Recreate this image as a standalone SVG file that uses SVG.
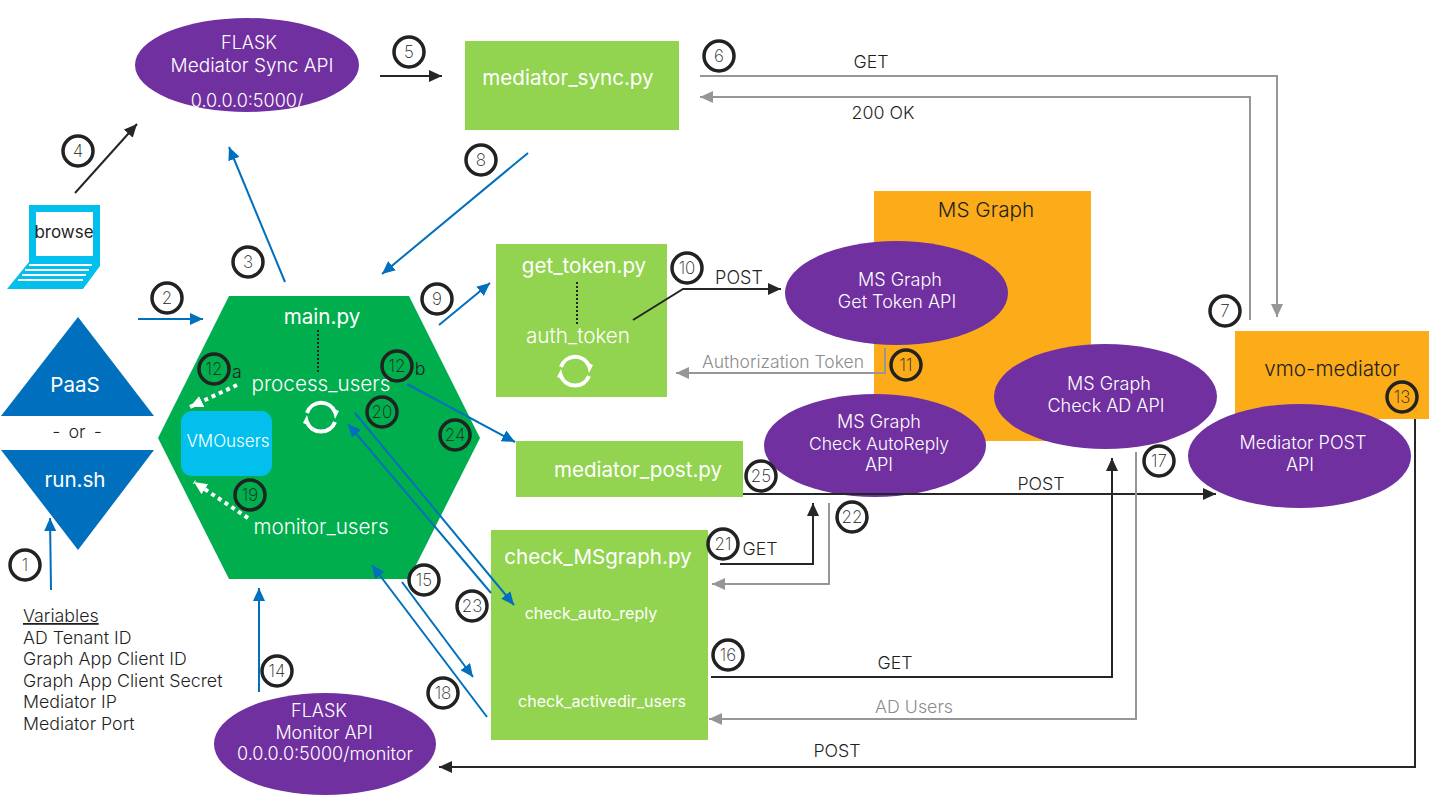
<svg xmlns="http://www.w3.org/2000/svg" width="1438" height="809" viewBox="0 0 1438 809">
<style>
text{font-family:Inter,"Liberation Sans",sans-serif;font-weight:300;fill:#fff;text-anchor:middle}
.d{fill:#1f1f1f}.g{fill:#8c8c8c}.l{font-size:20.7px}.h{font-size:20.6px;font-weight:400}.m{font-size:18px}.t{font-size:17.8px}.st{text-anchor:start}.u{font-size:16.1px;font-weight:400}
.p{fill:#7030A0}.lg{fill:#92D350}.o{fill:#FCAB19}.b{fill:#006FBE}
.n circle{fill:none;stroke:#222;stroke-width:3.5}
.n text{font-size:17px;fill:#222;font-weight:200}
.c path{fill:none}
.bl{stroke:#006FBE;stroke-width:2}.k{stroke:#262626;stroke-width:2}.gr{stroke:#969696;stroke-width:2}
.w{stroke:#fff;stroke-width:4;stroke-dasharray:4 4}
.dot{stroke:#222;stroke-width:2;stroke-dasharray:2 2}
</style>
<defs>
<marker id="ab" markerUnits="userSpaceOnUse" markerWidth="14" markerHeight="12" refX="13" refY="6" orient="auto"><path d="M0 0L13 6L0 12z" fill="#006FBE"/></marker>
<marker id="ak" markerUnits="userSpaceOnUse" markerWidth="14" markerHeight="12" refX="13" refY="6" orient="auto"><path d="M0 0L13 6L0 12z" fill="#262626"/></marker>
<marker id="ag" markerUnits="userSpaceOnUse" markerWidth="14" markerHeight="12" refX="13" refY="6" orient="auto"><path d="M0 0L13 6L0 12z" fill="#969696"/></marker>
<marker id="aw" markerUnits="userSpaceOnUse" markerWidth="14" markerHeight="12" refX="13" refY="6" orient="auto"><path d="M0 0L13 6L0 12z" fill="#fff"/></marker>
<g id="loop"><path d="M-14-4A15 15 0 0 1 14-5" fill="none" stroke="#fff" stroke-width="4"/><path d="M14 5A15 15 0 0 1-14 5" fill="none" stroke="#fff" stroke-width="4"/><path d="M11-9L18-6L14 2z" fill="#fff"/><path d="M-11 9L-18 6L-14-2z" fill="#fff"/></g>
</defs>
<g id="ms-graph"><rect class="o" x="874" y="191" width="217" height="250"/><text class="d l" x="986" y="217">MS Graph</text></g>
<g id="vmo-mediator"><rect class="o" x="1235" y="331" width="194" height="88"/><text class="d l" x="1332" y="376">vmo-mediator</text></g>
<g id="main"><path d="M229 296H409L480 438L409 579H229L158 438z" fill="#00AE4E"/>
<text class="h" x="322" y="324">main.py</text><text class="l" x="321" y="391">process_users</text><text class="l" x="321" y="534">monitor_users</text>
<use href="#loop" x="321" y="417"/></g>
<g id="vmousers"><rect x="181" y="411" width="91" height="65" rx="11" fill="#02BFEE"/><text x="228" y="447" font-size="17">VMOusers</text></g>
<g id="paas"><path class="b" d="M78 317L154 416H1z"/><text class="h" x="75" y="392">PaaS</text></g>
<text class="d m" x="77" y="438" word-spacing="3">- or -</text>
<g id="run"><path class="b" d="M1 450H154L78 550z"/><text class="h" x="75" y="487">run.sh</text></g>
<g id="browse"><path d="M29 205H100V266L83 289H7L29 262z" fill="#02BFEE"/><rect x="36" y="212" width="57" height="44" fill="#fff"/><path d="M29 265H92M25 270H89M22 275H86M18 280H83" stroke="#fff" stroke-width="2"/><text class="d" x="64" y="238" font-size="17" style="font-weight:400">browse</text></g>
<g id="flask-sync"><ellipse class="p" cx="247" cy="65" rx="112" ry="47"/><text x="249" y="49" class="m">FLASK</text><text x="252" y="72" font-size="19">Mediator Sync API</text><text x="247" y="107" class="m">0.0.0.0:5000/</text></g>
<g id="mediator-sync"><rect class="lg" x="465" y="41" width="214" height="89"/><text class="h" x="568" y="85">mediator_sync.py</text></g>
<g id="get-token"><rect class="lg" x="496" y="244" width="171" height="153"/><text class="h" x="584" y="273">get_token.py</text><text class="l" x="578" y="343">auth_token</text><use href="#loop" x="575" y="371"/></g>
<g id="mediator-post"><rect class="lg" x="516" y="441" width="227" height="56"/><text class="h" x="638" y="477">mediator_post.py</text></g>
<g id="check-msgraph"><rect class="lg" x="491" y="530" width="217" height="210"/><text class="h" x="598" y="564">check_MSgraph.py</text><text x="591" y="619" class="u">check_auto_reply</text><text x="602" y="707" class="u">check_activedir_users</text></g>
<g id="get-token-api"><ellipse class="p" cx="896.5" cy="293" rx="111.5" ry="52"/><text x="900" y="286" class="m">MS Graph</text><text x="897" y="308" class="m">Get Token API</text></g>
<g id="autoreply-api"><ellipse class="p" cx="875" cy="445.5" rx="111" ry="51.5"/><text x="879" y="428" class="m">MS Graph</text><text x="879" y="450" font-size="17.5">Check AutoReply</text><text x="879" y="471" class="m">API</text></g>
<g id="ad-api"><ellipse class="p" cx="1105.5" cy="396.5" rx="111.5" ry="52.5"/><text x="1109" y="390" class="m">MS Graph</text><text x="1106" y="412" class="m">Check AD API</text></g>
<g id="post-api"><ellipse class="p" cx="1299.5" cy="456" rx="111.5" ry="52"/><text x="1303" y="449" class="m">Mediator POST</text><text x="1300" y="471" class="m">API</text></g>
<g id="flask-monitor"><ellipse class="p" cx="325" cy="744" rx="111" ry="51"/><text x="319" y="717" class="m">FLASK</text><text x="324" y="739" class="m">Monitor API</text><text x="325" y="760" class="m">0.0.0.0:5000/monitor</text></g>
<g id="connectors" class="c">
<path class="bl" marker-end="url(#ab)" d="M51 590L50 518"/>
<path class="bl" marker-end="url(#ab)" d="M138 319H203"/>
<path class="bl" marker-end="url(#ab)" d="M285 282L229 147"/>
<path class="k" marker-end="url(#ak)" d="M75 193L137 124"/>
<path class="k" marker-end="url(#ak)" d="M380 76H442"/>
<path class="gr" marker-end="url(#ag)" d="M700 76H1277V317"/>
<path class="gr" marker-end="url(#ag)" d="M1250 320V97H700"/>
<path class="bl" marker-end="url(#ab)" d="M528 153L382 274"/>
<path class="bl" marker-end="url(#ab)" d="M439 325L490 283"/>
<path class="k" marker-end="url(#ak)" d="M633 320L683 289H781"/>
<path class="gr" marker-end="url(#ag)" d="M885 348V373H676"/>
<path class="w" marker-end="url(#aw)" d="M237 385L190 407"/>
<path class="w" marker-end="url(#aw)" d="M248 518L194 482"/>
<path class="bl" marker-end="url(#ab)" d="M407 384L515 442"/>
<path class="bl" marker-end="url(#ab)" d="M355 413L514 605"/>
<path class="bl" marker-end="url(#ab)" d="M491 593L348 424"/>
<path class="bl" marker-end="url(#ab)" d="M487 717L372 565"/>
<path class="bl" marker-end="url(#ab)" d="M402 582L473 677"/>
<path class="bl" marker-end="url(#ab)" d="M259 692V588"/>
<path class="k" marker-end="url(#ak)" d="M743 494H1216"/>
<path class="k" marker-end="url(#ak)" d="M720 564H813V503"/>
<path class="gr" marker-end="url(#ag)" d="M829 503V584H712"/>
<path class="k" marker-end="url(#ak)" d="M711 677H1112V458"/>
<path class="gr" marker-end="url(#ag)" d="M1136 452V719H709"/>
<path class="k" marker-end="url(#ak)" d="M1415 419V767H439"/>
<path class="dot" d="M318 330V372M577 282V324"/>
</g>
<g id="labels">
<text class="d t" x="871" y="68">GET</text>
<text class="d t" x="883" y="119">200 OK</text>
<text class="d m" x="739" y="284">POST</text>
<text class="g" x="783" y="368" font-size="17.5">Authorization Token</text>
<text class="d t" x="1041" y="490">POST</text>
<text class="d t" x="760" y="555">GET</text>
<text class="d t" x="895" y="669">GET</text>
<text class="g t" x="914" y="713">AD Users</text>
<text class="d t" x="837" y="757">POST</text>
<text class="d t" x="237" y="378">a</text>
<text class="d t" x="420" y="375">b</text>
<text class="d t st" x="23" y="622" text-decoration="underline">Variables</text>
<text class="d t st" x="23" y="644">AD Tenant ID</text>
<text class="d t st" x="23" y="665">Graph App Client ID</text>
<text class="d t st" x="23" y="687">Graph App Client Secret</text>
<text class="d t st" x="23" y="708">Mediator IP</text>
<text class="d t st" x="23" y="730">Mediator Port</text>
</g>
<g id="n1" class="n"><circle cx="25" cy="565" r="15"/><text x="25" y="571">1</text></g>
<g id="n2" class="n"><circle cx="167" cy="298" r="15"/><text x="167" y="304">2</text></g>
<g id="n3" class="n"><circle cx="248" cy="262" r="15"/><text x="248" y="268">3</text></g>
<g id="n4" class="n"><circle cx="78" cy="151" r="15"/><text x="78" y="157">4</text></g>
<g id="n5" class="n"><circle cx="409" cy="52" r="15"/><text x="409" y="58">5</text></g>
<g id="n6" class="n"><circle cx="719" cy="56" r="15"/><text x="719" y="62">6</text></g>
<g id="n7" class="n"><circle cx="1225" cy="311" r="15"/><text x="1225" y="317">7</text></g>
<g id="n8" class="n"><circle cx="481" cy="160" r="15"/><text x="481" y="166">8</text></g>
<g id="n9" class="n"><circle cx="437" cy="299" r="15"/><text x="437" y="305">9</text></g>
<g id="n10" class="n"><circle cx="687" cy="268" r="15"/><text x="687" y="274">10</text></g>
<g id="n11" class="n"><circle cx="906" cy="365" r="15"/><text x="906" y="371">11</text></g>
<g id="n12a" class="n"><circle cx="214" cy="369" r="15"/><text x="214" y="375">12</text></g>
<g id="n12b" class="n"><circle cx="397" cy="366" r="15"/><text x="397" y="372">12</text></g>
<g id="n13" class="n"><circle cx="1402" cy="397" r="15"/><text x="1402" y="403">13</text></g>
<g id="n14" class="n"><circle cx="277" cy="671" r="15"/><text x="277" y="677">14</text></g>
<g id="n15" class="n"><circle cx="424" cy="580" r="15"/><text x="424" y="586">15</text></g>
<g id="n16" class="n"><circle cx="728" cy="655" r="15"/><text x="728" y="661">16</text></g>
<g id="n17" class="n"><circle cx="1159" cy="461" r="15"/><text x="1159" y="467">17</text></g>
<g id="n18" class="n"><circle cx="443" cy="693" r="15"/><text x="443" y="699">18</text></g>
<g id="n19" class="n"><circle cx="250" cy="495" r="15"/><text x="250" y="501">19</text></g>
<g id="n20" class="n"><circle cx="382" cy="412" r="15"/><text x="382" y="418">20</text></g>
<g id="n21" class="n"><circle cx="723" cy="544" r="15"/><text x="723" y="550">21</text></g>
<g id="n22" class="n"><circle cx="852" cy="517" r="15"/><text x="852" y="523">22</text></g>
<g id="n23" class="n"><circle cx="472" cy="606" r="15"/><text x="472" y="612">23</text></g>
<g id="n24" class="n"><circle cx="455" cy="435" r="15"/><text x="455" y="441">24</text></g>
<g id="n25" class="n"><circle cx="761" cy="476" r="15"/><text x="761" y="482">25</text></g>
</svg>
